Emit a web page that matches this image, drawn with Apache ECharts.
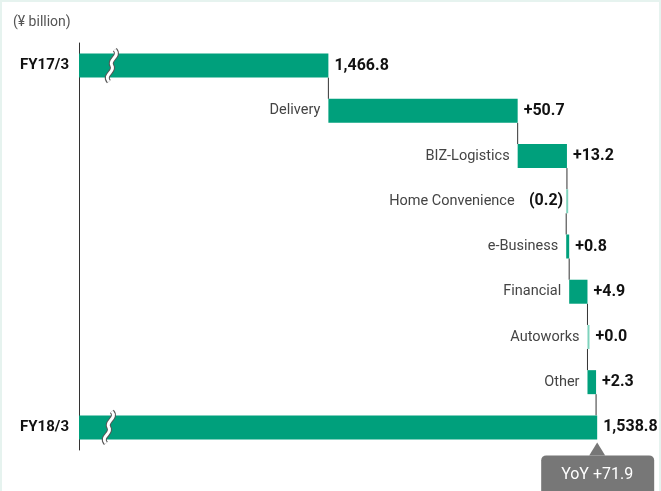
<!DOCTYPE html>
<html>
<head>
<meta charset="utf-8">
<script src="https://cdn.jsdelivr.net/npm/echarts@6/dist/echarts.min.js"></script>
<style>
	html, body { margin: 0; padding: 0; background: #fff; }
	#chart { width: 661px; height: 491px; box-sizing: border-box; border: 2px solid #e6f3ef; border-bottom: none; }
</style>
</head>
<body>
<div id="chart"></div>
<script>
var categories = ['FY17/3', 'Delivery', 'BIZ-Logistics', 'Home Convenience', 'e-Business', 'Financial', 'Autoworks', 'Other', 'FY18/3'];
var yLabels = ['FY17/3', '', '', '', '', '', '', '', 'FY18/3'];
var startTotal = 1466.8;
var deltas = [50.7, 13.2, -0.2, 0.8, 4.9, 0.0, 2.3];
var endTotal = 1538.8;
var valueLabels = ['1,466.8', '+50.7', '+13.2', '(0.2)', '+0.8', '+4.9', '+0.0', '+2.3', '1,538.8'];
var breakAt = [1408.8, 1408.0]; // where the bar is cut (FY17/3, FY18/3)
var yoyText = 'YoY +71.9';

(function() {
	'use strict';
	var green = '#00a07c';
	var lightGreen = '#7fd3bd';
	var barH = 24;

	// running totals
	var cum = [startTotal];
	for (var i = 0; i < deltas.length; i++) {
		cum.push(+(cum[i] + deltas[i]).toFixed(1));
	}

	var baseData = [];
	var barData = [];
	for (var k = 0; k < categories.length; k++) {
		if (k === 0 || k === categories.length - 1) {
			baseData.push({ value: 0, label: { show: false } });
			barData.push({ value: k === 0 ? startTotal : endTotal, label: { formatter: valueLabels[k] } });
			continue;
		}
		var prev = cum[k - 1], next = cum[k], d = deltas[k - 1];
		var base = Math.min(prev, next);
		var small = Math.abs(d) < 0.5;
		if (d < 0) {
			// negative: value label sits left of the bar, before the name
			baseData.push({
				value: base,
				label: { formatter: categories[k] + '    {v|' + valueLabels[k] + '}', distance: 3 }
			});
			barData.push({ value: Math.abs(d), itemStyle: { color: lightGreen }, label: { show: false } });
		} else {
			baseData.push({ value: base, label: { formatter: categories[k] } });
			barData.push({
				value: Math.abs(d),
				itemStyle: { color: small ? lightGreen : green },
				label: { formatter: valueLabels[k] }
			});
		}
	}

	// connector lines between consecutive bars
	var connData = [];
	for (var c = 0; c < categories.length - 1; c++) {
		connData.push([cum[c], c]);
	}

	var chart = echarts.init(document.getElementById('chart'));
	var option = {
		animation: false,
		title: {
			text: '(¥ billion)',
			left: 6,
			top: 8,
			textStyle: { fontFamily: 'Roboto', fontSize: 14, fontWeight: 'normal', color: '#555' }
		},
		grid: { left: 77, right: 20, top: 41, bottom: 41 },
		xAxis: {
			type: 'value',
			min: 1400,
			max: 1550,
			show: false
		},
		yAxis: {
			type: 'category',
			inverse: true,
			data: categories,
			axisLine: { lineStyle: { color: '#333', width: 1 } },
			axisTick: { show: false },
			axisLabel: {
				margin: 10,
				fontFamily: 'Roboto',
				fontSize: 15,
				fontWeight: 'bold',
				color: '#111',
				formatter: function(v, idx) { return yLabels[idx]; }
			}
		},
		series: [{
			// connectors
			type: 'custom',
			z: 1,
			data: connData,
			renderItem: function(params, api) {
				var p1 = api.coord([api.value(0), api.value(1)]);
				var p2 = api.coord([api.value(0), api.value(1) + 1]);
				return {
					type: 'line',
					shape: { x1: p1[0], y1: p1[1] + barH / 2, x2: p2[0], y2: p2[1] - barH / 2 },
					style: { stroke: '#333', lineWidth: 1 }
				};
			}
		}, {
			name: 'base',
			type: 'bar',
			stack: 'w',
			barWidth: barH,
			z: 2,
			itemStyle: { color: 'transparent' },
			label: {
				show: true,
				position: 'insideRight',
				distance: 8,
				fontFamily: 'Roboto',
				fontSize: 14.5,
				color: '#444',
				rich: {
					v: { fontFamily: 'Roboto', fontSize: 16, fontWeight: 'bold', color: '#111' }
				}
			},
			data: baseData
		}, {
			name: 'value',
			type: 'bar',
			stack: 'w',
			barWidth: barH,
			barMinHeight: 2,
			z: 3,
			itemStyle: { color: green },
			label: {
				show: true,
				position: 'right',
				distance: 6,
				fontFamily: 'Roboto',
				fontSize: 16,
				fontWeight: 'bold',
				color: '#111'
			},
			data: barData
		}, {
			// break marks on the total bars
			type: 'custom',
			z: 5,
			data: [[breakAt[0], 0], [breakAt[1], categories.length - 1]],
			renderItem: function(params, api) {
				var p = api.coord([api.value(0), api.value(1)]);
				var path = 'M3,-16 C9,-9 -4,-6 0,0 C4,6 -9,9 -3,16';
				return {
					type: 'group',
					x: p[0],
					y: p[1],
					children: [{
						type: 'path',
						shape: { pathData: path },
						style: { fill: 'none', stroke: '#555', lineWidth: 5 }
					}, {
						type: 'path',
						shape: { pathData: path },
						style: { fill: 'none', stroke: '#fff', lineWidth: 3 }
					}]
				};
			}
		}, {
			// YoY callout under the last bar
			type: 'custom',
			z: 6,
			data: [[endTotal, categories.length - 1]],
			renderItem: function(params, api) {
				var p = api.coord([api.value(0), api.value(1)]);
				var top = barH / 2 + 3;
				return {
					type: 'group',
					x: p[0],
					y: p[1],
					children: [{
						type: 'polygon',
						shape: { points: [[0, top], [-8, top + 13], [8, top + 13]] },
						style: { fill: '#777' }
					}, {
						type: 'rect',
						shape: { x: -56, y: top + 13, width: 113, height: 44, r: 5 },
						style: { fill: '#777' }
					}, {
						type: 'text',
						style: {
							text: yoyText,
							x: 0,
							y: top + 33,
							align: 'center',
							verticalAlign: 'middle',
							fontFamily: 'Roboto',
							fontSize: 16,
							fill: '#fff'
						}
					}]
				};
			}
		}]
	};
	chart.setOption(option);
	window.onresize = chart.resize;
}());
</script>
</body>
</html>
